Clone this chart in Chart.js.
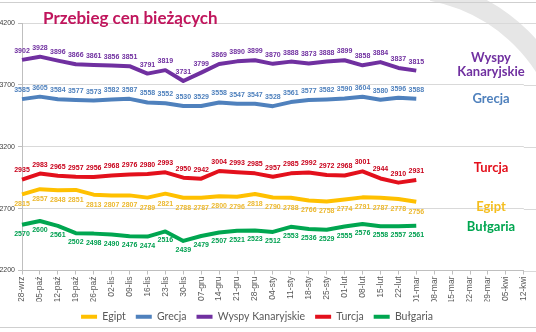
<!DOCTYPE html>
<html lang="pl">
<head>
<meta charset="utf-8">
<title>Przebieg cen bieżących</title>
<script src="https://cdn.jsdelivr.net/npm/chart.js@4"></script>
<style>
  html, body { margin: 0; padding: 0; background: #fff; }
  body { width: 536px; height: 332px; position: relative; overflow: hidden; font-family: Lato, sans-serif; }
  #arcClip { position: absolute; left: 430px; top: 0; width: 106px; height: 80px; overflow: hidden; }
  #arc { position: absolute; left: -212px; top: -22px; width: 364px; height: 364px; box-sizing: border-box;
         border: 20px solid #e6e6e6; border-radius: 50%; }
  .rule { position: absolute; left: 0; width: 536px; height: 0; border-top: 1px solid #cfcfcf; }
  #wrap { position: absolute; left: -12px; top: 0; width: 548px; height: 332px; }
  #title { position: absolute; left: 43px; top: 7px; font: bold 17px Lato, sans-serif; color: #c0155c; white-space: nowrap; }
  .name { position: absolute; left: 441px; width: 100px; text-align: center; font: bold 13px/14px Lato, sans-serif; }
</style>
</head>
<body>
<div id="arcClip"><div id="arc"></div></div>
<div class="rule" style="top:2px"></div>
<div class="rule" style="top:327px"></div>
<div id="wrap"><canvas id="chart"></canvas></div>
<div id="title">Przebieg cen bieżących</div>
<div class="name" style="top:50px;color:#7030a0">Wyspy<br>Kanaryjskie</div>
<div class="name" style="top:91px;color:#4f81bd">Grecja</div>
<div class="name" style="top:160px;color:#e3101c">Turcja</div>
<div class="name" style="top:199px;color:#f5be1e">Egipt</div>
<div class="name" style="top:219px;color:#00a650">Bułgaria</div>
<script>
// weekly price readings
const weeks = ['28-wrz', '05-paź', '12-paź', '19-paź', '26-paź', '02-lis', '09-lis', '16-lis', '23-lis', '30-lis',
  '07-gru', '14-gru', '21-gru', '28-gru', '04-sty', '11-sty', '18-sty', '25-sty', '01-lut', '08-lut',
  '15-lut', '22-lut', '01-mar', '08-mar', '15-mar', '22-mar', '29-mar', '05-kwi', '12-kwi'];

const egipt = [2815, 2857, 2848, 2851, 2813, 2807, 2807, 2789, 2821, 2788, 2787, 2800, 2796, 2818,
  2790, 2788, 2766, 2758, 2774, 2791, 2787, 2778, 2756];
const grecja = [3585, 3605, 3584, 3577, 3573, 3582, 3587, 3558, 3552, 3530, 3529, 3558, 3547, 3547,
  3528, 3561, 3577, 3582, 3590, 3604, 3580, 3596, 3588];
const wyspyKanaryjskie = [3902, 3928, 3896, 3866, 3861, 3856, 3851, 3791, 3819, 3731, 3799, 3869, 3890, 3899,
  3870, 3888, 3873, 3888, 3899, 3858, 3884, 3837, 3815];
const turcja = [2935, 2983, 2965, 2957, 2956, 2968, 2976, 2980, 2993, 2950, 2942, 3004, 2993, 2985,
  2957, 2985, 2992, 2972, 2968, 3001, 2944, 2910, 2931];
const bulgaria = [2570, 2600, 2561, 2502, 2498, 2490, 2476, 2474, 2516, 2439, 2479, 2507, 2521, 2523,
  2512, 2553, 2536, 2529, 2555, 2576, 2558, 2557, 2561];

const yMin = 2200, yMax = 4200, yStep = 500;

// value labels above/below each point
const valueLabels = {
  id: 'valueLabels',
  afterDatasetsDraw(chart) {
    const ctx = chart.ctx;
    chart.data.datasets.forEach((ds, i) => {
      const meta = chart.getDatasetMeta(i);
      ctx.save();
      ctx.font = 'bold 7px "Liberation Sans", sans-serif';
      ctx.fillStyle = ds.labelColor;
      ctx.textAlign = 'center';
      ctx.textBaseline = 'middle';
      meta.data.forEach((pt, j) => {
        ctx.fillText(ds.data[j], pt.x, pt.y + ds.labelShift);
      });
      ctx.restore();
    });
  }
};

// carry the horizontal grid on to the right edge
const gridToEdge = {
  id: 'gridToEdge',
  beforeDatasetsDraw(chart) {
    const { ctx, chartArea, scales: { y } } = chart;
    ctx.save();
    ctx.strokeStyle = '#d9d9d9';
    ctx.lineWidth = 1;
    y.ticks.forEach(t => {
      const py = Math.round(y.getPixelForValue(t.value)) + 0.5;
      ctx.beginPath();
      ctx.moveTo(chartArea.right, py);
      ctx.lineTo(chart.width, py);
      ctx.stroke();
    });
    ctx.restore();
  }
};

function series(label, data, color, labelColor, labelShift) {
  return {
    label: label,
    data: data,
    borderColor: color,
    backgroundColor: color,
    borderWidth: 4,
    pointRadius: 0,
    tension: 0,
    borderJoinStyle: 'round',
    labelColor: labelColor,
    labelShift: labelShift
  };
}

new Chart(document.getElementById('chart'), {
  type: 'line',
  data: {
    labels: weeks,
    datasets: [
      series('Egipt', egipt, '#ffc000', '#ecb82e', 10),
      series('Grecja', grecja, '#4f81bd', '#4f81bd', -9),
      series('Wyspy Kanaryjskie', wyspyKanaryjskie, '#7030a0', '#7030a0', -9),
      series('Turcja', turcja, '#e3101c', '#c8001a', -9),
      series('Bułgaria', bulgaria, '#00a650', '#00a050', 9)
    ]
  },
  options: {
    responsive: true,
    maintainAspectRatio: false,
    animation: false,
    layout: { padding: { top: 23, right: 10, left: 0, bottom: 0 } },
    plugins: {
      tooltip: { enabled: false },
      legend: {
        position: 'bottom',
        labels: {
          usePointStyle: true,
          pointStyle: 'line',
          pointStyleWidth: 16,
          padding: 10,
          color: '#595959',
          font: { family: 'Lato', size: 10.5 }
        }
      }
    },
    scales: {
      x: {
        afterFit: scale => { scale.height = 31; },
        grid: { display: true, drawOnChartArea: false, tickLength: 4, color: '#bfbfbf' },
        border: { color: '#bfbfbf' },
        ticks: {
          autoSkip: false,
          maxRotation: 90,
          minRotation: 90,
          padding: 2,
          color: '#595959',
          font: { family: 'Liberation Sans', size: 8.5 }
        }
      },
      y: {
        min: yMin,
        max: yMax,
        afterFit: scale => { scale.width = 34; },
        grid: { color: '#d9d9d9', tickLength: 4, tickColor: '#bfbfbf' },
        border: { color: '#bfbfbf' },
        ticks: {
          stepSize: yStep,
          padding: 3,
          color: '#404040',
          font: { family: 'Liberation Sans', size: 7 },
          callback: v => String(v)
        }
      }
    }
  },
  plugins: [gridToEdge, valueLabels]
});
</script>
</body>
</html>
